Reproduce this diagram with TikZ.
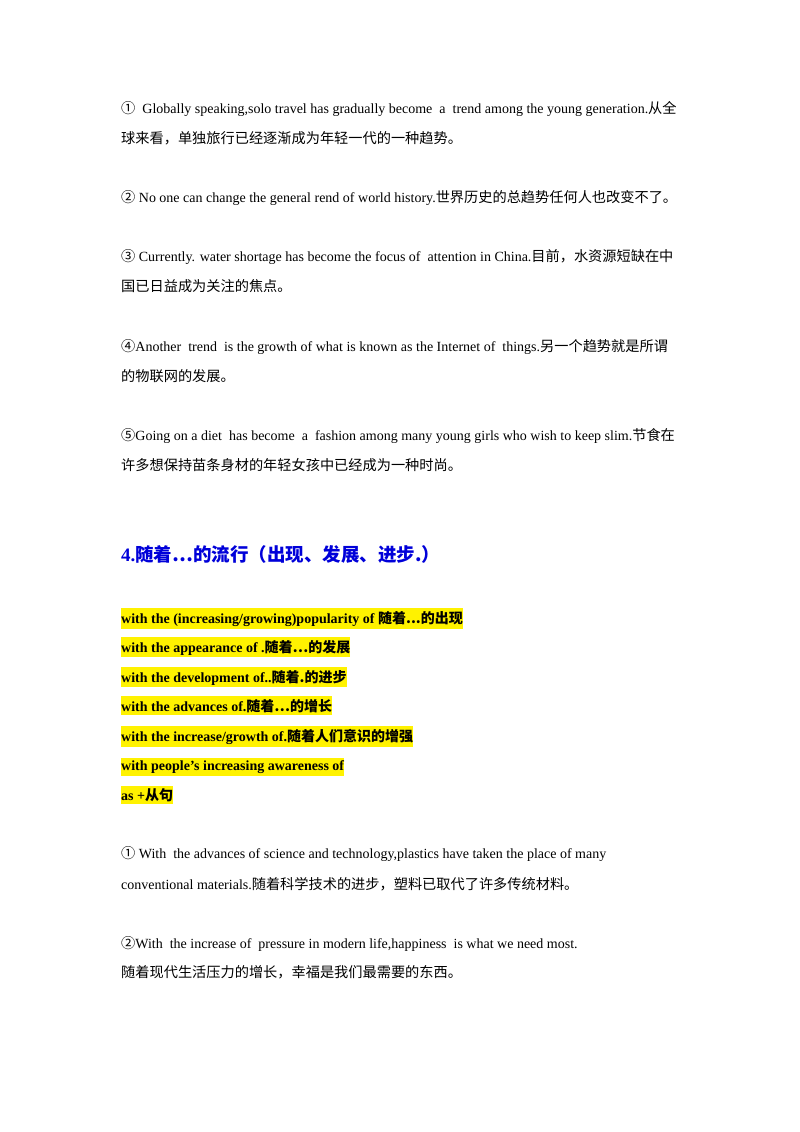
\documentclass[tikz,border=0pt]{standalone}
\usepackage{fontspec}
\setmainfont{Liberation Serif}
\newfontfamily\cjk{Noto Sans CJK SC}
\newcommand{\zh}[1]{{\cjk\fontsize{14.2}{16}\selectfont #1}}
\begin{document}
\begin{tikzpicture}[x=1pt,y=-1pt,
  ln/.style={anchor=base west,inner sep=0pt,font=\fontsize{14}{16}\selectfont},
  hl/.style={anchor=base west,inner xsep=0pt,inner ysep=2.5pt,fill=yellow,font=\bfseries\fontsize{14}{16}\selectfont}]
\useasboundingbox (0,0) rectangle (800,1132);
\node[ln] (a1) at (121,113) {\zh{①}\ \ Globally speaking,solo travel has gradually become \ a \ trend among the young generation.\zh{从全}};
\node[ln] (a2) at (121,143) {\zh{球来看，单独旅行已经逐渐成为年轻一代的一种趋势。}};
\node[ln] (b1) at (121,202) {\zh{②} No one can change the general rend of world history.\zh{世界历史的总趋势任何人也改变不了。}};
\node[ln] (c1) at (121,261) {\zh{③} Currently. water shortage has become the focus of \ attention in China.\zh{目前，水资源短缺在中}};
\node[ln] (c2) at (121,291) {\zh{国已日益成为关注的焦点。}};
\node[ln] (d1) at (121,351) {\zh{④}Another \ trend \ is the growth of what is known as the Internet of \ things.\zh{另一个趋势就是所谓}};
\node[ln] (d2) at (121,381) {\zh{的物联网的发展。}};
\node[ln] (e1) at (121,440) {\zh{⑤}Going on a diet \ has become \ a \ fashion among many young girls who wish to keep slim.\zh{节食在}};
\node[ln] (e2) at (121,470) {\zh{许多想保持苗条身材的年轻女孩中已经成为一种时尚。}};
\node[ln,text=blue!85!black,font=\bfseries\fontsize{19}{21}\selectfont] (h) at (121,561) {4.{\cjk\bfseries\fontsize{18.5}{21}\selectfont 随着…的流行（出现、发展、进步.）}};
\newcommand{\zb}[1]{{\cjk\bfseries\fontsize{14}{16}\selectfont #1}}
\node[hl] (k1) at (121,623) {with the (increasing/growing)popularity of \zb{随着...的出现}};
\node[hl] (k2) at (121,652) {with the appearance of .\zb{随着…的发展}};
\node[hl] (k3) at (121,682) {with the development of..\zb{随着.的进步}};
\node[hl] (k4) at (121,711) {with the advances of.\zb{随着…的增长}};
\node[hl] (k5) at (121,741) {with the increase/growth of.\zb{随着人们意识的增强}};
\node[hl] (k6) at (121,770) {with people's increasing awareness of};
\node[hl] (k7) at (121,800) {as +\zb{从句}};
\node[ln] (f1) at (121,858) {\zh{①} With \ the advances of science and technology,plastics have taken the place of many};
\node[ln] (f2) at (121,889) {conventional materials.\zh{随着科学技术的进步，塑料已取代了许多传统材料。}};
\node[ln] (g1) at (121,948) {\zh{②}With \ the increase of \ pressure in modern life,happiness \ is what we need most.};
\node[ln] (g2) at (121,977) {\zh{随着现代生活压力的增长，幸福是我们最需要的东西。}};
\end{tikzpicture}
\end{document}
